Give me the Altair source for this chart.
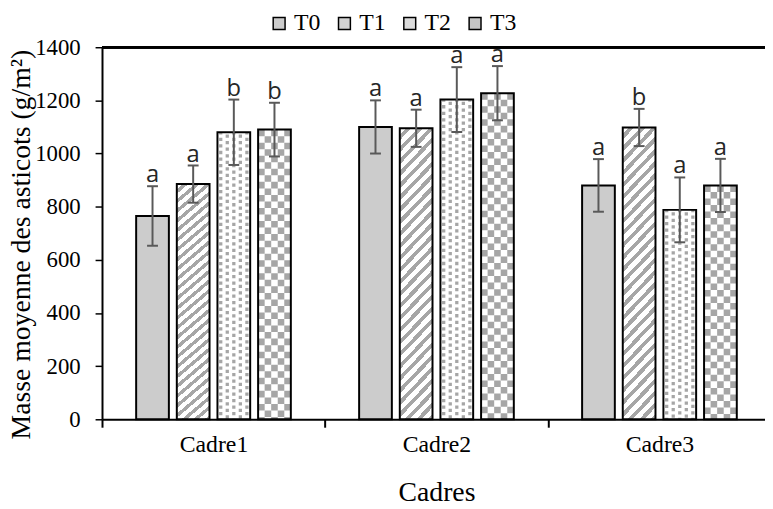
import altair as alt
import pandas as pd

# ---------------- data ----------------
cadres = ["Cadre1", "Cadre2", "Cadre3"]
treatments = ["T0", "T1", "T2", "T3"]

mean_T0 = [765, 1100, 880]
mean_T1 = [885, 1095, 1098]
mean_T2 = [1080, 1203, 788]
mean_T3 = [1090, 1227, 880]

err_T0 = [112, 100, 99]
err_T1 = [70, 70, 70]
err_T2 = [123, 122, 122]
err_T3 = [101, 102, 100]

let_T0 = ["a", "a", "a"]
let_T1 = ["a", "a", "b"]
let_T2 = ["b", "a", "a"]
let_T3 = ["b", "a", "a"]

means = {"T0": mean_T0, "T1": mean_T1, "T2": mean_T2, "T3": mean_T3}
errs = {"T0": err_T0, "T1": err_T1, "T2": err_T2, "T3": err_T3}
lets = {"T0": let_T0, "T1": let_T1, "T2": let_T2, "T3": let_T3}

rows = []
for i, c in enumerate(cadres):
    for t in treatments:
        rows.append({"cadre": c, "trt": t, "mean": means[t][i],
                     "err": errs[t][i], "letter": lets[t][i]})
df = pd.DataFrame(rows)

# ---------------- styling ----------------
SERIF = "Liberation Serif"
GRAY = "#a6a6a6"

x_axis = alt.Axis(title="Cadres", tickBand="extent", tickSize=8, tickWidth=2,
                  tickColor="black", domainColor="black", domainWidth=2,
                  labelFont=SERIF, labelFontSize=24, labelColor="black",
                  labelAngle=0, labelPadding=6,
                  titleFont=SERIF, titleFontSize=28, titleFontWeight="normal",
                  titleColor="black", titleBaseline="alphabetic", titleY=82)
y_axis = alt.Axis(title="Masse moyenne des asticots (g/m²)",
                  values=[0, 200, 400, 600, 800, 1000, 1200, 1400], format="d",
                  grid=False, tickSize=7, tickWidth=1.5, tickColor="black",
                  domainColor="black", domainWidth=2,
                  labelFont=SERIF, labelFontSize=23, labelColor="black",
                  labelPadding=15,
                  titleFont=SERIF, titleFontSize=28, titleFontWeight="normal",
                  titleColor="black", titleAngle=270, titleBaseline="top",
                  titleAlign="center", titleX=-95, titleY=199)

YSCALE = alt.Scale(domain=[0, 1400], nice=False)

# dodge layout (style constants)
P_INNER, P_OUTER = 0.195, 0.84
STEP = 1.0 / (len(treatments) - P_INNER + 2 * P_OUTER)   # in band units
BW = STEP * (1 - P_INNER)
NCOL = 5

X = alt.X("cadre:N", sort=cadres,
          scale=alt.Scale(domain=cadres, range=[0, 676],
                          paddingInner=0, paddingOuter=0),
          axis=x_axis)
XO = alt.XOffset("trt:N",
                 scale=alt.Scale(domain=treatments, paddingInner=P_INNER,
                                 paddingOuter=P_OUTER))
XO_Q = alt.XOffset("f:Q", scale=alt.Scale(domain=[0, 1], nice=False, zero=False))


def Y(field):
    return alt.Y(field, type="quantitative", scale=YSCALE, axis=y_axis)


base = alt.Chart(df).transform_calculate(
    lo="datum.mean - datum.err", hi="datum.mean + datum.err")

# base bars with legend colours
bars = base.mark_bar(strokeWidth=0).encode(
    x=X, xOffset=XO, y=Y("mean"),
    color=alt.Color("trt:N",
                    scale=alt.Scale(domain=treatments,
                                    range=["#cccccc", "#d2d2d2", "#dcdcdc", "#c6c6c6"]),
                    legend=alt.Legend(title=None, orient="none", direction="horizontal",
                                      legendX=167, legendY=-36,
                                      symbolType="square", symbolSize=144,
                                      symbolStrokeColor="black", symbolStrokeWidth=1.5,
                                      symbolOpacity=1,
                                      labelFont=SERIF, labelFontSize=24,
                                      labelColor="black", labelOffset=3,
                                      columnPadding=12, padding=0)))

bar_layers = [bars]

# T1: diagonal stripes through a hard-stop linear gradient
N = 27
stops = []
for k in range(N):
    stops.append(alt.GradientStop(color="white", offset=k / N))
    stops.append(alt.GradientStop(color="white", offset=(k + 0.55) / N))
    stops.append(alt.GradientStop(color=GRAY, offset=(k + 0.55) / N))
    stops.append(alt.GradientStop(color=GRAY, offset=(k + 1) / N))
stripe = alt.LinearGradient(gradient="linear", stops=stops,
                            x1=0, y1=0, x2=0.130, y2=1.103)
bar_layers.append(base.transform_filter(alt.datum.trt == "T1")
                  .mark_bar(fill=stripe, strokeWidth=0)
                  .encode(x=X, xOffset=XO, y=Y("mean")))

# T2 and T3: white underlay
for t in ["T2", "T3"]:
    bar_layers.append(base.transform_filter(alt.datum.trt == t)
                      .mark_bar(fill="white", strokeWidth=0)
                      .encode(x=X, xOffset=XO, y=Y("mean")))

# pattern columns (dashed rules) placed with a continuous offset scale
pat_layers = []
for j in range(NCOL):
    frac_expr = (f"{P_OUTER * STEP} + indexof({treatments}, datum.trt) * {STEP}"
                 f" + {(j + 0.5) / NCOL * BW}")
    col = base.transform_calculate(f=frac_expr)
    pat_layers.append(col.transform_filter(alt.datum.trt == "T3")
                      .mark_rule(color=GRAY, strokeWidth=6.65, strokeDash=[6.6, 6.6],
                                 strokeDashOffset=6.6 * (j % 2))
                      .encode(x=X, xOffset=XO_Q, y=Y("mean"), y2=alt.datum(0)))
    pat_layers.append(col.transform_filter(alt.datum.trt == "T2")
                      .mark_rule(color=GRAY, strokeWidth=3.3, strokeDash=[3.3, 3.3],
                                 strokeDashOffset=3.3 * (j % 2) + 1)
                      .encode(x=X, xOffset=XO_Q, y=Y("mean"), y2=alt.datum(0)))

top_layers = []
# bar outlines
top_layers.append(base.mark_bar(fill="white", fillOpacity=0, stroke="black", strokeWidth=2)
                  .encode(x=X, xOffset=XO, y=Y("mean")))

# error bars
top_layers.append(base.mark_rule(color="#595959", strokeWidth=2)
                  .encode(x=X, xOffset=XO, y=Y("lo"), y2="hi:Q"))
for fld in ["lo", "hi"]:
    top_layers.append(base.mark_point(shape="stroke", size=121, color="#595959",
                                      strokeWidth=2, opacity=1)
                      .encode(x=X, xOffset=XO, y=Y(fld)))

# significance letters
top_layers.append(base.mark_text(font="Open Sans", fontSize=24, baseline="alphabetic",
                                 dy=-4, color="#262626")
                  .encode(x=X, xOffset=XO, y=Y("hi"), text="letter:N"))

# top line at 1400
top_layers.append(alt.Chart(df).mark_rule(color="black", strokeWidth=2)
                  .encode(y=alt.Y(datum=1400, type="quantitative", scale=YSCALE,
                                  axis=y_axis)))

chart = alt.layer(
    alt.layer(*bar_layers),
    alt.layer(*pat_layers),
    alt.layer(*top_layers),
).resolve_scale(xOffset="independent").properties(
    width=670, height=376,
    autosize=alt.AutoSizeParams(type="none"),
    padding={"left": 95, "top": 37, "right": 0, "bottom": 86},
).configure_view(stroke=None).configure_axis(
    labelFont=SERIF, titleFont=SERIF, labelColor="black", titleColor="black",
    titleFontWeight="normal"
).configure_legend(labelFont=SERIF, labelFontSize=24, labelColor="black")

chart.save("out.html", embed_options={"renderer": "svg", "actions": False})
